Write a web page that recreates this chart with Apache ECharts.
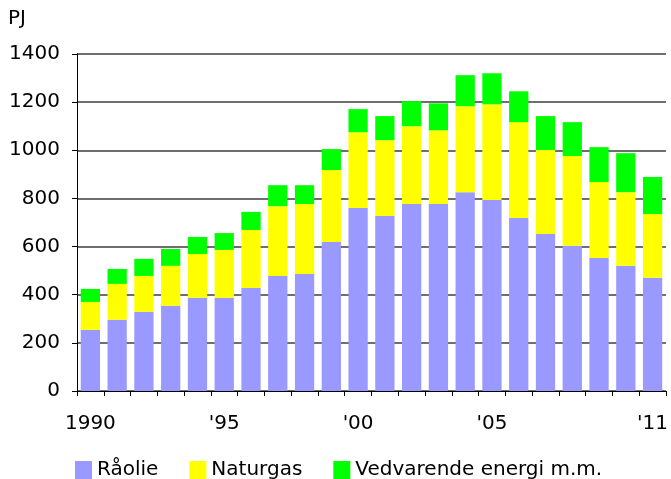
<!DOCTYPE html>
<html>
<head>
<meta charset="utf-8">
<script src="https://cdn.jsdelivr.net/npm/echarts@6/dist/echarts.min.js"></script>
<style>
  html, body { margin: 0; padding: 0; background: #fff; }
  #chart { width: 671px; height: 479px; }
</style>
</head>
<body>
<div id="chart"></div>
<script>
// år 1990-2011
const years = ['1990', '1991', '1992', '1993', '1994', '1995', '1996', '1997', '1998', '1999', '2000',
    '2001', '2002', '2003', '2004', '2005', '2006', '2007', '2008', '2009', '2010', '2011'];
const yearLabels = { 0: '1990', 5: "'95", 10: "'00", 15: "'05", 21: "'11" };

// PJ
const raaolie = [254, 296, 329, 354, 387, 387, 428, 478, 486, 619, 760, 727, 777, 777, 826, 793, 719, 652, 603, 553, 520, 470];
const naturgas = [116, 149, 149, 166, 182, 199, 241, 290, 291, 299, 315, 315, 323, 306, 357, 398, 398, 349, 373, 315, 306, 265];
const vedvarende = [54, 62, 71, 70, 71, 70, 75, 87, 78, 87, 96, 100, 104, 112, 129, 129, 128, 141, 141, 145, 162, 154];

const fontFamily = 'DejaVu Sans';
const chart = echarts.init(document.getElementById('chart'));

const mkSeries = (name, data, color) => ({
    name: name,
    type: 'bar',
    stack: 'total',
    data: data,
    barWidth: '72%',
    itemStyle: { color: color },
    emphasis: { disabled: true },
});

chart.setOption({
    animation: false,
    textStyle: { fontFamily: fontFamily },
    grid: { left: 77, right: 2.5, top: 54, bottom: 88, containLabel: false },
    graphic: [{
        type: 'text',
        left: 8,
        top: 9,
        style: { text: 'PJ', fontSize: 20, fontFamily: fontFamily, fill: '#000' },
    }],
    legend: {
        left: 75,
        top: 460,
        padding: 0,
        itemWidth: 17,
        itemHeight: 18,
        itemGap: 31,
        icon: 'rect',
        textStyle: { fontSize: 20, color: '#000', fontFamily: fontFamily },
        data: [
            'Råolie',
            { name: 'Naturgas', textStyle: { padding: [0, 9, 0, 0] } },
            'Vedvarende energi m.m.',
        ],
    },
    xAxis: {
        type: 'category',
        data: years,
        axisLine: { lineStyle: { color: '#000', width: 1 } },
        axisTick: { show: true, interval: 0, length: 5, lineStyle: { color: '#000' } },
        axisLabel: {
            interval: 0,
            margin: 23,
            fontSize: 20,
            color: '#000',
            formatter: (v, idx) => yearLabels[idx] || '',
        },
    },
    yAxis: {
        type: 'value',
        min: 0,
        max: 1400,
        interval: 200,
        axisLine: { show: true, lineStyle: { color: '#000', width: 1 } },
        axisTick: { show: true, length: 5, lineStyle: { color: '#000' } },
        axisLabel: { margin: 17, fontSize: 20, color: '#000', formatter: (v) => String(v) },
        splitLine: { lineStyle: { color: '#6e6e6e', width: 2 } },
    },
    series: [
        mkSeries('Råolie', raaolie, '#9999ff'),
        mkSeries('Naturgas', naturgas, '#ffff00'),
        mkSeries('Vedvarende energi m.m.', vedvarende, '#00ff00'),
    ],
});
</script>
</body>
</html>
